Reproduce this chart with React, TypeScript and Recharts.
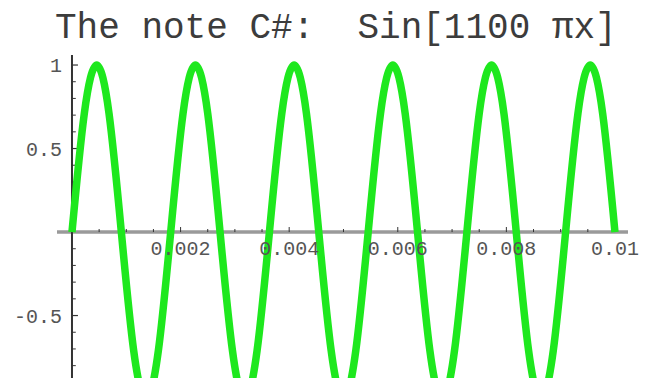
import React from "react";
import { LineChart, Line, XAxis, YAxis, ReferenceLine, ReferenceDot } from "recharts";

const xValues = [
  0, 0.000227, 0.000455, 0.000682, 0.000909, 0.001136, 0.001364, 0.001591,
  0.001818, 0.002045, 0.002273, 0.0025, 0.002727, 0.002955, 0.003182, 0.003409,
  0.003636, 0.003864, 0.004091, 0.004318, 0.004545, 0.004773, 0.005, 0.005227,
  0.005455, 0.005682, 0.005909, 0.006136, 0.006364, 0.006591, 0.006818, 0.007045,
  0.007273, 0.0075, 0.007727, 0.007955, 0.008182, 0.008409, 0.008636, 0.008864,
  0.009091, 0.009318, 0.009545, 0.009773, 0.01,
];
const yValues = [
  0, 0.71, 1, 0.71, 0, -0.71, -1, -0.71,
  0, 0.71, 1, 0.71, 0, -0.71, -1, -0.71,
  0, 0.71, 1, 0.71, 0, -0.71, -1, -0.71,
  0, 0.71, 1, 0.71, 0, -0.71, -1, -0.71,
  0, 0.71, 1, 0.71, 0, -0.71, -1, -0.71,
  0, 0.71, 1, 0.71, 0,
];

const xMajorTicks = [0.002, 0.004, 0.006, 0.008, 0.01];
const xTickLabels = ["0.002", "0.004", "0.006", "0.008", "0.01"];
const xMinorTicks = [
  0.0005, 0.001, 0.0015, 0.0025, 0.003, 0.0035, 0.0045, 0.005, 0.0055,
  0.0065, 0.007, 0.0075, 0.0085, 0.009, 0.0095,
];
const yMajorTicks = [-0.5, 0.5, 1];
const yTickLabels = ["-0.5", "0.5", "1"];
const yMinorTicks = [-0.8, -0.7, -0.6, -0.4, -0.3, -0.2, -0.1, 0.1, 0.2, 0.3, 0.4, 0.6, 0.7, 0.8, 0.9];

const title = "The note C#:  Sin[1100 \u03c0x]";

const data = xValues.map((x, i) => ({ x, y: yValues[i] }));

const X_MIN = -0.000276;
const X_MAX = 0.01024;
const Y_MIN = -0.874;
const Y_MAX = 1.078;
const FONT = "'Liberation Mono', 'DejaVu Sans Mono', monospace";

export default function App() {
  return (
    <div style={{ position: "absolute", left: 0, top: 0, width: 654, height: 378, background: "#fff" }}>
      <svg width={654} height={52} style={{ position: "absolute", left: 0, top: 0 }}>
        <text x={55} y={38} fontFamily={FONT} fontSize={36} fill="#3c3c3c" style={{ whiteSpace: "pre" }}>
          {title}
        </text>
      </svg>
      <div style={{ position: "absolute", left: 0, top: 0 }}>
        <LineChart width={654} height={378} data={data} margin={{ top: 52, right: 26, bottom: 0, left: 57 }}>
          <XAxis dataKey="x" type="number" domain={[X_MIN, X_MAX]} hide allowDataOverflow />
          <YAxis type="number" domain={[Y_MIN, Y_MAX]} hide allowDataOverflow />
          <ReferenceLine y={0} stroke="#9a9a9a" strokeWidth={3.5} />
          <ReferenceLine segment={[{ x: 0, y: 1.06 }, { x: 0, y: Y_MIN }]} stroke="#333" strokeWidth={2} />
          {xMinorTicks.map((t) => (
            <ReferenceLine key={"xm" + t} segment={[{ x: t, y: 0 }, { x: t, y: 0.018 }]} stroke="#333" strokeWidth={1} />
          ))}
          {xMajorTicks.map((t) => (
            <ReferenceLine key={"xM" + t} segment={[{ x: t, y: 0 }, { x: t, y: 0.03 }]} stroke="#333" strokeWidth={1} />
          ))}
          {yMinorTicks.map((t) => (
            <ReferenceLine key={"ym" + t} segment={[{ x: 0, y: t }, { x: 0.00007, y: t }]} stroke="#333" strokeWidth={1} />
          ))}
          {yMajorTicks.map((t) => (
            <ReferenceLine key={"yM" + t} segment={[{ x: 0, y: t }, { x: 0.00011, y: t }]} stroke="#333" strokeWidth={1.2} />
          ))}
          {xMajorTicks.map((t, i) => (
            <ReferenceDot
              key={"xl" + t}
              x={t}
              y={0}
              r={0}
              stroke="none"
              fill="none"
              label={{ value: xTickLabels[i], position: "bottom", offset: 9, fontSize: 20, fill: "#555", fontFamily: FONT }}
            />
          ))}
          {yMajorTicks.map((t, i) => (
            <ReferenceDot
              key={"yl" + t}
              x={0}
              y={t}
              r={0}
              stroke="none"
              fill="none"
              label={{ value: yTickLabels[i], position: "left", offset: 10, fontSize: 20, fill: "#555", fontFamily: FONT }}
            />
          ))}
          <Line
            dataKey="y"
            type="natural"
            stroke="#1ee81e"
            strokeWidth={7.5}
            dot={false}
            isAnimationActive={false}
          />
        </LineChart>
      </div>
    </div>
  );
}
